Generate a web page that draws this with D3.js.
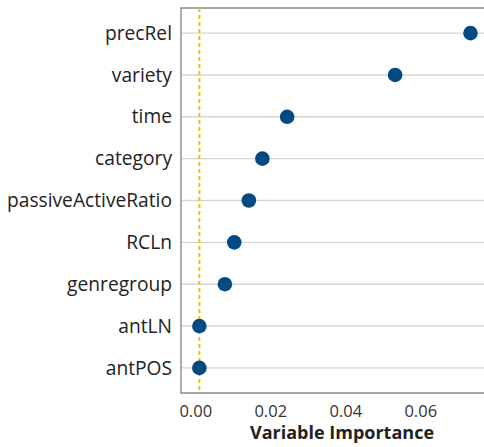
<!DOCTYPE html>
<html>
<head>
<meta charset="utf-8">
<script src="https://cdn.jsdelivr.net/npm/d3@7"></script>
<style>
  body { margin: 0; background: #fff; }
  text { font-family: "Open Sans", sans-serif; }
</style>
</head>
<body>
<div id="chart"></div>
<script>
const variables = ["precRel", "variety", "time", "category", "passiveActiveRatio",
                   "RCLn", "genregroup", "antLN", "antPOS"];
const importance = [0.0734, 0.0533, 0.0245, 0.0179, 0.0143, 0.0104, 0.0079, 0.0011, 0.0011];
const xTicks = [0.00, 0.02, 0.04, 0.06];
const cutoff = 0.0011;

const width = 484, height = 447;
const margin = { top: 8, right: 0, bottom: 54, left: 181 };

const svg = d3.select("#chart")
    .append("svg")
    .attr("width", width)
    .attr("height", height);

let xScale = d3.scaleLinear()
    .domain([-0.0038, 0.077])
    .range([margin.left, width - margin.right]);

let yScale = d3.scalePoint()
    .domain(variables)
    .range([margin.top, height - margin.bottom])
    .padding(0.6);

// grid lines
svg.append("g")
    .selectAll("line")
    .data(variables)
    .enter()
    .append("line")
    .attr("x1", margin.left)
    .attr("x2", width - margin.right)
    .attr("y1", d => yScale(d))
    .attr("y2", d => yScale(d))
    .attr("stroke", "#d6d6d6")
    .attr("stroke-width", 1.4);

// panel border (top, left, bottom)
svg.append("path")
    .attr("d", `M${width},${margin.top}H${margin.left}V${height - margin.bottom}H${width}`)
    .attr("fill", "none")
    .attr("stroke", "#8a8a8a")
    .attr("stroke-width", 1.4);

// reference line
svg.append("line")
    .attr("x1", xScale(cutoff))
    .attr("x2", xScale(cutoff))
    .attr("y1", margin.top)
    .attr("y2", height - margin.bottom)
    .attr("stroke", "#e3c51a")
    .attr("stroke-width", 2)
    .attr("stroke-dasharray", "4,3");

svg.selectAll("circle")
    .data(variables)
    .enter()
    .append("circle")
    .attr("cx", (d, i) => xScale(importance[i]))
    .attr("cy", d => yScale(d))
    .attr("r", 7.3)
    .attr("fill", "#034a82");

// y labels
let yAxis = d3.axisLeft(yScale).tickSize(0).tickPadding(9);
svg.append("g")
    .attr("transform", `translate(${margin.left}, 0)`)
    .call(yAxis)
    .call(g => g.select(".domain").remove())
    .selectAll("text")
    .attr("font-family", "Open Sans, sans-serif")
    .attr("font-size", 19.2)
    .attr("fill", "#222");

// x axis
let xAxis = d3.axisBottom(xScale)
    .tickValues(xTicks)
    .tickFormat(d3.format(".2f"))
    .tickSize(0)
    .tickPadding(12);
svg.append("g")
    .attr("transform", `translate(0, ${height - margin.bottom})`)
    .call(xAxis)
    .call(g => g.select(".domain").remove())
    .selectAll("text")
    .attr("font-family", "Open Sans, sans-serif")
    .attr("font-size", 16.5)
    .attr("fill", "#333");

svg.append("text")
    .attr("x", 342)
    .attr("y", 439)
    .attr("text-anchor", "middle")
    .attr("font-size", 18)
    .attr("font-weight", "bold")
    .attr("fill", "#222")
    .text("Variable Importance");
</script>
</body>
</html>
